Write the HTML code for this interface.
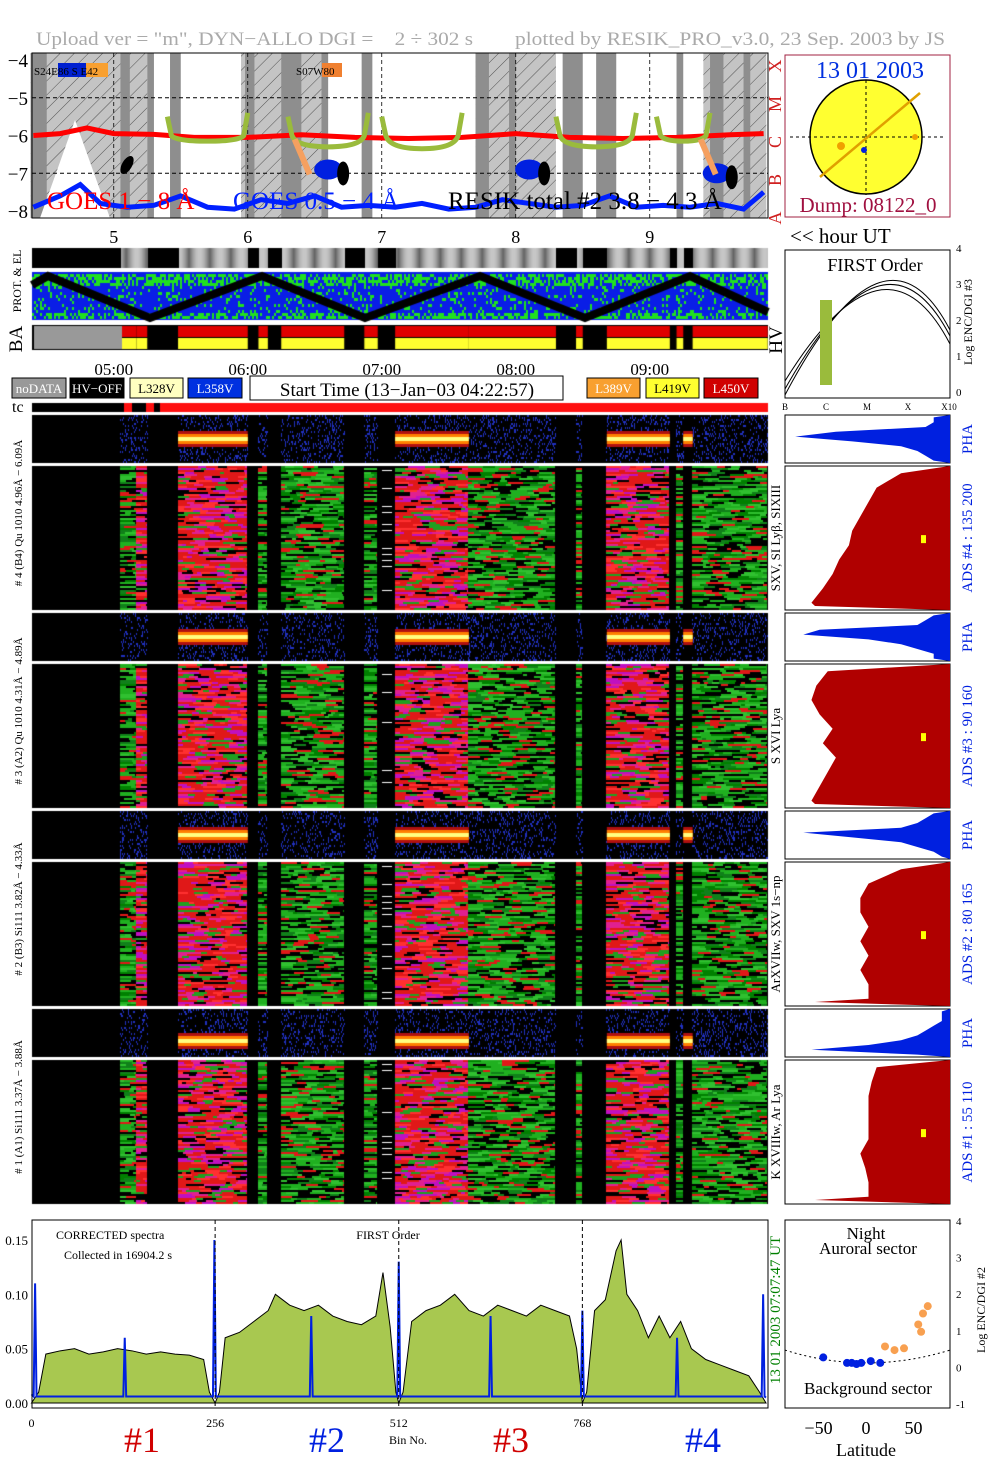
<!DOCTYPE html>
<html><head><meta charset="utf-8">
<style>
body{margin:0;background:#fff;}
#wrap{position:relative;width:1004px;height:1477px;overflow:hidden;font-family:"Liberation Serif",serif;}
svg{position:absolute;left:0;top:0;}
canvas{position:absolute;left:0;top:0;}
</style></head>
<body>
<div id="wrap">
<canvas id="cv" width="1004" height="1477"></canvas>
<svg id="sv" width="1004" height="1477" xmlns="http://www.w3.org/2000/svg">
<defs>
<pattern id="hatch" width="10" height="10" patternUnits="userSpaceOnUse" patternTransform="rotate(45)">
<line x1="0" y1="0" x2="0" y2="10" stroke="#333" stroke-width="0.8"/></pattern>
</defs>
</svg>
</div>
<script>
// ---------- data ----------
const hourTicks=[5,6,7,8,9];
const timeTickLabels=["05:00","06:00","07:00","08:00","09:00"];
const goesYTicks=[-4,-5,-6,-7,-8];
const hatchBands=[[4.38,5.25],[5.95,6.55],[7.7,8.3],[9.4,9.87]];
const darkBands=[[4.38,4.5],[5.05,5.12],[5.25,5.3],[5.42,5.5],[5.98,6.05],[6.25,6.4],[6.55,6.6],[6.85,6.93],[7.7,7.8],[7.95,8.0],[8.35,8.5],[8.6,8.75],[9.2,9.25],[9.45,9.55],[9.7,9.75]];
const goesLongT=[4.4,4.6,4.8,5.0,5.3,5.6,6.0,6.4,6.8,7.2,7.6,8.0,8.4,8.8,9.2,9.6,9.85];
const goesLongV=[-6.0,-5.95,-5.8,-5.95,-5.97,-6.05,-6.05,-5.98,-6.05,-6.08,-6.05,-5.95,-6.05,-6.08,-6.05,-5.98,-5.95];
const goesShortT=[4.4,4.6,4.75,4.9,5.1,5.3,5.5,5.7,5.9,6.1,6.3,6.5,6.7,6.9,7.1,7.3,7.5,7.7,7.9,8.1,8.3,8.5,8.7,8.9,9.1,9.3,9.5,9.7,9.85];
const goesShortV=[-7.9,-7.6,-7.3,-7.8,-7.9,-7.85,-7.6,-7.9,-7.95,-7.7,-7.8,-7.6,-7.9,-7.85,-7.9,-7.8,-7.95,-7.9,-7.7,-7.8,-7.9,-7.85,-7.6,-7.9,-7.85,-7.9,-7.8,-7.95,-7.5];
const resikSegs=[[5.4,6.0],[6.3,6.9],[7.0,7.6],[8.3,8.9],[9.05,9.45]];
const resikV=[-6.15,-6.3,-6.35,-6.3,-6.15];
const specSegs=[[4.38,5.05,'k'],[5.05,5.17,'g'],[5.17,5.25,'r'],[5.25,5.3,'k'],[5.3,5.48,'k'],[5.48,6.0,'r'],[6.0,6.08,'k'],[6.08,6.15,'g'],[6.15,6.25,'k'],[6.25,6.72,'g'],[6.72,6.87,'k'],[6.87,6.97,'g'],[6.97,7.1,'k'],[7.1,7.65,'r'],[7.65,8.3,'g'],[8.3,8.45,'k'],[8.45,8.5,'g'],[8.5,8.68,'k'],[8.68,9.15,'r'],[9.15,9.2,'k'],[9.2,9.25,'g'],[9.25,9.32,'k'],[9.32,9.88,'g']];
const phaActive=[[5.48,6.0],[7.1,7.65],[8.68,9.15],[9.25,9.32]];
const phaPanels=[[415,463],[613,661],[811,859],[1009,1057]];
const adsPanels=[[466,610],[664,808],[862,1006],[1060,1204]];
const phaHist=[[0.1,0.1,0.15,0.7,0.95,0.6,0.3,0.2,0.15,0.1],[0.1,0.15,0.2,0.8,0.9,0.5,0.3,0.2,0.1,0.1],[0.1,0.15,0.2,0.3,0.9,0.6,0.3,0.2,0.1,0.05],[0.05,0.05,0.05,0.1,0.15,0.2,0.3,0.5,0.85,0.2]];
const adsHist=[[0.3,0.45,0.5,0.55,0.6,0.62,0.68,0.72,0.78,0.85],[0.75,0.82,0.85,0.8,0.72,0.78,0.7,0.75,0.8,0.85],[0.3,0.5,0.55,0.55,0.5,0.55,0.5,0.55,0.5,0.5],[0.45,0.48,0.5,0.5,0.5,0.5,0.55,0.52,0.5,0.5]];
const adsLabels=["ADS #4 :   135 200","ADS #3 :   90 160","ADS #2 :   80 165","ADS #1 :   55 110"];
const leftLabels=["# 4 (B4) Qu 1010 4.96Å − 6.09Å","# 3 (A2) Qu 1010 4.31Å − 4.89Å","# 2 (B3) Si111 3.82Å − 4.33Å","# 1 (A1) Si111 3.37Å − 3.88Å"];
const lineLabels=["SXV, SI Lyβ, SIXIII","S XVI Lya","ArXVIIw, SXV 1s−np","K XVIIIw, Ar Lya"];
const specBins=[0,10,20,40,60,80,100,120,140,160,180,200,220,240,248,256,262,270,290,310,330,340,360,380,400,420,440,460,480,490,500,508,512,518,530,550,570,590,610,630,650,670,690,710,730,750,760,768,774,785,800,815,822,830,845,860,875,890,905,920,940,960,980,1000,1015,1024];
const specVals=[0,0.01,0.045,0.048,0.05,0.045,0.047,0.05,0.048,0.045,0.047,0.045,0.044,0.04,0.01,0,0.01,0.06,0.065,0.075,0.085,0.1,0.09,0.085,0.09,0.08,0.075,0.072,0.08,0.12,0.07,0.01,0,0.01,0.075,0.085,0.09,0.1,0.085,0.08,0.09,0.085,0.08,0.09,0.085,0.08,0.05,0,0.01,0.085,0.095,0.14,0.15,0.1,0.085,0.06,0.08,0.06,0.075,0.05,0.04,0.035,0.03,0.025,0.01,0];
const blueSpikeBins=[5,130,255,390,512,640,768,900,1020];
const blueSpikeVals=[0.11,0.06,0.15,0.08,0.13,0.08,0.085,0.06,0.1];
const ymTicks=[0,0.05,0.10,0.15];
const ymLabels=["0.00","0.05","0.10","0.15"];
const binTicks=[0,256,512,768];
const latPts=[[-45,0.3],[-20,0.15],[-15,0.15],[-10,0.12],[-5,0.15],[5,0.2],[15,0.15],[20,0.6],[30,0.5],[40,0.55],[55,1.2],[60,1.5],[65,1.7],[58,1.0]];

// ---------- helpers ----------
const sv=document.getElementById('sv');
const NS="http://www.w3.org/2000/svg";
function hx(h){return 31+(h-4.3825)*134;}
function mk(tag,at,parent){const e=document.createElementNS(NS,tag);for(const k in at)e.setAttribute(k,at[k]);(parent||sv).appendChild(e);return e;}
function txt(x,y,s,size,fill,anchor,rot,name){const t=mk('text',{x:x,y:y,'font-size':size,fill:fill||'#000','text-anchor':anchor||'start','font-family':'Liberation Serif, serif'});if(rot)t.setAttribute('transform','rotate('+rot+' '+x+' '+y+')');t.textContent=s;return t;}
function rect(x,y,w,h,fill,name,stroke){const r=mk('rect',{x:x,y:y,width:w,height:h,fill:fill});if(stroke){r.setAttribute('stroke',stroke);}return r;}

// title
let tt=txt(36,45,'Upload ver = "m", DYN−ALLO DGI =    2 ÷ 302 s','19px','#aaa','start',0,'upload-title');
tt.setAttribute('xml:space','preserve');tt.style.whiteSpace='pre';tt.setAttribute('textLength','437');tt.setAttribute('lengthAdjust','spacingAndGlyphs');
tt=txt(515,45,'plotted by RESIK_PRO_v3.0, 23 Sep. 2003 by JS','19px','#aaa','start',0,'plotted-by-title');
tt.setAttribute('textLength','430');tt.setAttribute('lengthAdjust','spacingAndGlyphs');

// ---------- GOES panel ----------
const gy=v=>60+(-4-v)*37.75;
rect(32,53,736,165,'#fff','goes-panel-bg');
hatchBands.forEach(b=>{rect(hx(b[0]),53,hx(b[1])-hx(b[0]),165,'#c4c4c4','hatch-band');rect(hx(b[0]),53,hx(b[1])-hx(b[0]),165,'url(#hatch)','hatch-overlay');});
darkBands.forEach(b=>{rect(hx(b[0]),53,hx(b[1])-hx(b[0]),165,'#8e8e8e','dark-band');});
mk('polygon',{points:'40,218 75,120 110,218',fill:'#fff'});
[-5,-7].forEach(v=>mk('line',{x1:32,x2:768,y1:gy(v),y2:gy(v),stroke:'#000','stroke-dasharray':'4,3','stroke-width':1}));
hourTicks.forEach(h=>mk('line',{x1:hx(h),x2:hx(h),y1:53,y2:218,stroke:'#000','stroke-dasharray':'4,3','stroke-width':0.8}));
let p='';goesLongT.forEach((t,i)=>p+=(i?'L':'M')+hx(t)+','+gy(goesLongV[i]));
let e=mk('path',{d:p,stroke:'#ff0000','stroke-width':5,fill:'none'});
resikSegs.forEach((s,i)=>{const x1=hx(s[0]),x2=hx(s[1]);const d='M'+x1+','+gy(-5.5)+'L'+(x1+4)+','+gy(-6.0)+'Q'+(x1+8)+','+gy(resikV[i])+' '+(x1+x2)/2+','+gy(resikV[i])+'Q'+(x2-8)+','+gy(resikV[i])+' '+(x2-4)+','+gy(-6.0)+'L'+x2+','+gy(-5.4);const q=mk('path',{d:d,stroke:'#9abb3c','stroke-width':5,fill:'none'});});
[[6.6,-6.9],[8.1,-6.9],[9.5,-7.0]].forEach(c=>{mk('ellipse',{cx:hx(c[0]),cy:gy(c[1]),rx:14,ry:10,fill:'#0020e0'});mk('ellipse',{cx:hx(c[0])+15,cy:gy(c[1])+4,rx:6,ry:12,fill:'#000'});});
[6.35,9.38].forEach(t=>mk('path',{d:'M'+hx(t)+','+gy(-6.1)+'l15,35',stroke:'#f5a060','stroke-width':6}));
mk('ellipse',{cx:127,cy:165,rx:5,ry:10,fill:'#000',transform:'rotate(30 127 165)'});
p='';goesShortT.forEach((t,i)=>p+=(i?'L':'M')+hx(t)+','+gy(goesShortV[i]));
e=mk('path',{d:p,stroke:'#0020ff','stroke-width':5,fill:'none'});
rect(32,53,736,165,'none','goes-panel-frame','#000');
goesYTicks.forEach(v=>txt(28,gy(v)+7,'−'+(-v),'19px','#000','end',0,'goes-y-tick'));
txt(47,209,'GOES 1 − 8 Å','25px','#ff0000','start',0,'goes-long-label');
txt(233,209,'GOES 0.5 − 4 Å','25px','#0020ff','start',0,'goes-short-label');
txt(448,209,'RESIK total #2  3.8 − 4.3 Å','25px','#000','start',0,'resik-total-label');
rect(58,63,28,14,'#0020d0','region-blue');rect(86,63,22,14,'#f8a030','region-orange');
txt(34,75,'S24E86 S E42','11px','#000','start',0,'region-label');
rect(322,63,20,14,'#f08030','region-orange-2');txt(296,75,'S07W80','11px','#000','start',0,'region-label-2');
['A','B','C','M','X'].forEach((l,i)=>txt(781,218-i*38,l,'18px','#d02020','middle',-90,'goes-class-label'));
// sun box
rect(785,55,165,162,'#fff','sun-box','#a02040');
mk('ellipse',{cx:866,cy:137,rx:56,ry:57,fill:'#ffff30',stroke:'#000','stroke-width':1.5});
mk('line',{x1:790,x2:946,y1:137,y2:137,stroke:'#000','stroke-dasharray':'3,3'});
mk('line',{x1:866,x2:866,y1:80,y2:195,stroke:'#000','stroke-dasharray':'3,3'});
mk('line',{x1:820,y1:177,x2:920,y2:93,stroke:'#e0a000','stroke-width':2.5});
mk('circle',{cx:841,cy:146,r:4,fill:'#f0a000'});mk('circle',{cx:915,cy:137,r:3,fill:'#f0a000'});mk('circle',{cx:864,cy:150,r:3,fill:'#0020e0'});
txt(870,78,'13 01 2003','24px','#0030e0','middle',0,'sun-date');
txt(868,212,'Dump: 08122_0','21px','#a01040','middle',0,'dump-label');

// hour labels
hourTicks.forEach(h=>txt(hx(h),243,String(h),'18px','#000','middle',0,'hour-tick'));
txt(790,243,'<< hour UT','21px','#000','start',0,'hour-ut-label');
timeTickLabels.forEach((l,i)=>txt(hx(hourTicks[i]),375,l,'17px','#000','middle',0,'time-tick'));
txt(21,281,'PROT. & EL','12px','#000','middle',-90,'prot-el-label');
txt(22,339,'BA','19px','#000','middle',-90,'ba-label');
txt(782,340,'HV','19px','#000','middle',-90,'hv-label');

// legend boxes
const leg=[[12,66,'#999','noDATA','#fff'],[70,124,'#000','HV−OFF','#fff'],[130,183,'#ffffc0','L328V','#000'],[188,242,'#0030e0','L358V','#fff'],[587,640,'#f8a030','L389V','#fff'],[646,699,'#ffff30','L419V','#000'],[704,758,'#d00000','L450V','#fff']];
leg.forEach(l=>{rect(l[0],378,l[1]-l[0],20,l[2],'legend-'+l[3].toLowerCase(),'#000');txt((l[0]+l[1])/2,393,l[3],'13px',l[4],'middle',0,'legend-text');});
rect(250,376,313,24,'#fff','start-time-box','#000');
txt(407,396,'Start Time (13−Jan−03 04:22:57)','19px','#000','middle',0,'start-time-text');
txt(12,412,'tc','16px','#000','start',0,'tc-label');

// ---------- canvas drawing ----------
const cv=document.getElementById('cv').getContext('2d');
function hash(a,b){let h=(a*374761393+b*668265263)^(a*b*1274126177);h=(h^(h>>>13))*1274126177;return ((h^(h>>>16))>>>0)/4294967296;}
for(let x=32;x<768;x++){const h=4.3825+(x-31)/134;let s=specSegs.find(g=>h>=g[0]&&h<g[1]);let c=s&&s[2]!=='k'?Math.floor(100+100*Math.abs(Math.sin(x*0.15))):0;cv.fillStyle='rgb('+c+','+c+','+c+')';cv.fillRect(x,248,1,20);}
cv.fillStyle='#0a1ee6';cv.fillRect(32,272,736,48);
cv.fillStyle='#20e020';
for(let x=32;x<768;x+=2){for(let y=274;y<318;y+=3){const r=hash(x,y);if(r<(y<285||y>312?0.6:0.18))cv.fillRect(x,y,2,3);}}
cv.strokeStyle='#000';cv.lineWidth=8;cv.beginPath();cv.moveTo(32,285);
[[48,276],[150,318],[262,276],[365,318],[480,276],[585,318],[690,276],[768,312]].forEach(p=>cv.lineTo(p[0],p[1]));cv.stroke();
cv.fillStyle='#000';cv.fillRect(32,325,736,25);
specSegs.forEach(s=>{const x1=hx(s[0]),x2=hx(s[1]);if(s[2]!=='k'){cv.fillStyle='#e00000';cv.fillRect(x1,326,x2-x1,11);cv.fillStyle='#ffff30';cv.fillRect(x1,338,x2-x1,11);}});
cv.fillStyle='#999';cv.fillRect(34,326,88,23);
cv.fillStyle='#000';cv.fillRect(32,403,736,9);cv.fillStyle='#ff1010';cv.fillRect(160,403,608,9);cv.fillRect(124,403,8,9);cv.fillRect(146,403,8,9);
phaPanels.forEach((pp,pi)=>{cv.fillStyle='#000';cv.fillRect(32,pp[0],736,pp[1]-pp[0]);
 const mid=(pp[0]+pp[1])/2+(pi==3?8:0);
 specSegs.forEach(s=>{if(s[2]==='k')return;const x1=hx(s[0]),x2=hx(s[1]);
  for(let x=Math.floor(x1);x<x2;x++)for(let y=pp[0];y<pp[1];y+=2){if(hash(x+pi*999,y)<0.18){cv.fillStyle='#2030c0';cv.fillRect(x,y,1,2);}}});
 phaActive.forEach(a=>{const x1=hx(a[0]),x2=hx(a[1]);
  cv.fillStyle='#b01010';cv.fillRect(x1,mid-8,x2-x1,16);cv.fillStyle='#ff8000';cv.fillRect(x1,mid-5,x2-x1,10);cv.fillStyle='#ffff80';cv.fillRect(x1,mid-2,x2-x1,4);});
});
const redPal=['#e01818','#e01818','#e02090','#c010c0','#20a020','#000','#e01818','#ff3030'];
const grnPal=['#20b020','#10801a','#000','#20b020','#e01818','#008000','#30c030','#000'];
adsPanels.forEach((pp,pi)=>{cv.fillStyle='#000';cv.fillRect(32,pp[0],736,pp[1]-pp[0]);
 specSegs.forEach((s,si)=>{if(s[2]==='k')return;const x1=Math.floor(hx(s[0])),x2=Math.floor(hx(s[1]));const pal=s[2]==='r'?redPal:grnPal;
  for(let y=pp[0];y<pp[1];y+=2){for(let x=x1;x<x2;){const w=4+Math.floor(hash(x,y+pi)*14);cv.fillStyle=pal[Math.floor(hash(y+si*31,x+pi*7)*8)];cv.fillRect(x,y,Math.min(w,x2-x),2);x+=w;}}});
 for(let y=pp[0]+4;y<pp[1];y+=6){if(hash(y,pi)<0.3){cv.fillStyle='#fff';cv.fillRect(382,y,10,1);}}
});
phaPanels.forEach((pp,pi)=>{const H=pp[1]-pp[0];const vals=phaHist[pi];let d='M950,'+pp[0];vals.forEach((v,i)=>{d+='L'+(950-v*163)+','+(pp[0]+H*(i+0.5)/vals.length);});d+='L950,'+pp[1]+'Z';
 rect(785,pp[0],165,H,'#fff','pha-hist-bg','#000');const q=mk('path',{d:d,fill:'#0020e0'});
 txt(972,(pp[0]+pp[1])/2,'PHA','15px','#0020e0','middle',-90,'pha-label');});
adsPanels.forEach((pp,pi)=>{const H=pp[1]-pp[0];const vals=adsHist[pi];let d='M950,'+pp[0];vals.forEach((v,i)=>{d+='L'+(950-v*163)+','+(pp[0]+H*(i+0.5)/vals.length);});d+='L815,'+(pp[1]-4)+'L950,'+pp[1]+'Z';
 rect(785,pp[0],165,H,'#fff','ads-hist-bg','#000');const q=mk('path',{d:d,fill:'#b00000'});
 rect(921,pp[0]+H*0.48,5,8,'#ffff00','ads-marker');
 txt(972,(pp[0]+pp[1])/2,adsLabels[pi],'15px','#0020e0','middle',-90,'ads-label');
 txt(780,(pp[0]+pp[1])/2,lineLabels[pi],'13px','#000','middle',-90,'line-label');
 txt(22,(pp[0]-50+pp[1])/2,leftLabels[pi],'11px','#000','middle',-90,'channel-label');});
rect(785,250,165,148,'#fff','first-order-box','#000');
txt(875,271,'FIRST Order','18px','#000','middle',0,'first-order-title');
[0,6,14].forEach(o=>mk('path',{d:'M785,'+(395-o)+'Q885,'+(205+o)+' 950,'+(330+o),fill:'none',stroke:'#000'}));
mk('rect',{x:820,y:300,width:12,height:85,fill:'#9abb3c'});
['B','C','M','X','X10'].forEach((l,i)=>txt(785+i*41,410,l,'9px','#000','middle',0,'flux-class-tick'));
['0','1','2','3','4'].forEach((l,i)=>txt(956,396-i*36,l,'11px','#000','start',0,'log-enc-tick'));
txt(972,322,'Log ENC/DGI #3','12px','#000','middle',-90,'log-enc-label');

// ---------- bottom spectrum ----------
const bx=b=>31.5+b*(734.5/1024);const by=v=>1403-v*1087;
rect(32,1220,736,188,'#fff','spectrum-bg');
let d='M'+bx(specBins[0])+','+by(0);specBins.forEach((b,i)=>d+='L'+bx(b)+','+by(specVals[i]));d+='Z';
e=mk('path',{d:d,fill:'#a8c850',stroke:'#000','stroke-width':1});
d='M'+bx(0)+','+by(0.008);blueSpikeBins.forEach((b,i)=>{d+='L'+bx(b-2)+','+by(0.006)+'L'+bx(b)+','+by(blueSpikeVals[i])+'L'+bx(b+2)+','+by(0.006);});d+='L'+bx(1024)+','+by(0.005);
e=mk('path',{d:d,fill:'none',stroke:'#0020e0','stroke-width':2});
[256,512,768].forEach(b=>mk('line',{x1:bx(b),x2:bx(b),y1:1220,y2:1408,stroke:'#000','stroke-dasharray':'4,3'}));
rect(32,1220,736,188,'none','spectrum-frame','#000');
ymTicks.forEach((v,i)=>txt(28,by(v)+5,ymLabels[i],'13px','#000','end',0,'spectrum-y-tick'));
binTicks.forEach(b=>txt(bx(b),1427,String(b),'12px','#000','middle',0,'bin-tick'));
txt(408,1444,'Bin No.','12px','#000','middle',0,'bin-axis-title');
txt(56,1239,'CORRECTED spectra','12px','#000','start',0,'corrected-label');
txt(64,1259,'Collected in 16904.2 s','12px','#000','start',0,'collected-label');
txt(388,1239,'FIRST Order','12px','#000','middle',0,'first-order-label');
txt(780,1310,'13 01 2003   07:07:47 UT','15px','#008000','middle',-90,'timestamp-label');
[['#1',142,'#d00000'],['#2',327,'#0020e0'],['#3',511,'#d00000'],['#4',703,'#0020e0']].forEach(l=>txt(l[1],1452,l[0],'36px',l[2],'middle',0,'segment-label'));
const lx=v=>866+v*0.95,ly=v=>1405-(v+1)*36.6;
rect(785,1220,165,188,'#fff','latitude-box','#000');
mk('path',{d:'M785,'+ly(0.5)+'Q866,'+ly(-0.2)+' 950,'+ly(0.5),fill:'none',stroke:'#000','stroke-dasharray':'2,3'});
latPts.forEach(p=>{const c=mk('circle',{cx:lx(p[0]),cy:ly(p[1]),r:4,fill:p[0]>15?'#f8a050':'#0020e0'});});
txt(866,1239,'Night','17px','#000','middle',0,'night-label');
txt(868,1254,'Auroral sector','17px','#000','middle',0,'auroral-label');
txt(868,1394,'Background sector','17px','#000','middle',0,'background-sector-label');
['-1','0','1','2','3','4'].forEach((l,i)=>txt(956,1408-i*36.6,l,'11px','#000','start',0,'lat-y-tick'));
txt(985,1310,'Log ENC/DGI #2','12px','#000','middle',-90,'lat-y-title');
[-50,0,50].forEach(v=>txt(lx(v),1434,v<0?'−50':String(v),'18px','#000','middle',0,'lat-x-tick'));
txt(866,1456,'Latitude','18px','#000','middle',0,'lat-x-title');
</script>
</body></html>
